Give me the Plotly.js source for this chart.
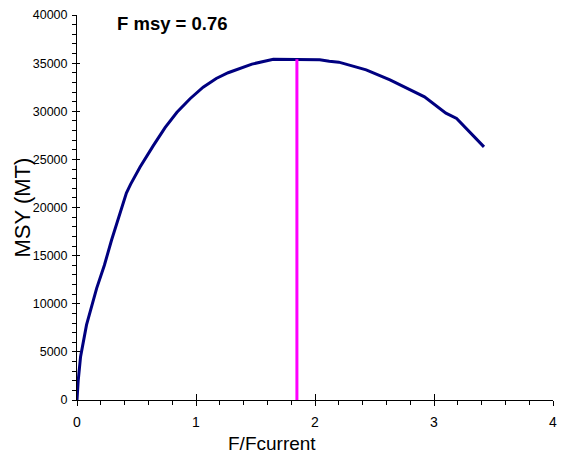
<!DOCTYPE html>
<html>
<head>
<meta charset="utf-8">
<script src="https://cdn.plot.ly/plotly-3.0.1.min.js"></script>
<style>html,body{margin:0;padding:0;background:#fff;}#chart{width:563px;height:456px;}</style>
</head>
<body>
<div id="chart"></div>
<script>
// F/Fcurrent multipliers and corresponding MSY (MT)
const fRatio = [0, 0.01, 0.03, 0.08, 0.165, 0.23, 0.29, 0.35, 0.39, 0.415, 0.45, 0.53, 0.64, 0.74, 0.84, 0.95, 1.06, 1.17, 1.27, 1.47, 1.65, 1.85, 1.95, 2.04, 2.12, 2.2, 2.43, 2.63, 2.92, 3.1, 3.19, 3.42];
const msy    = [0, 2000, 4500, 7800, 11600, 14000, 16600, 18900, 20400, 21500, 22400, 24200, 26400, 28300, 29900, 31300, 32500, 33400, 34000, 34900, 35400, 35400, 35400, 35350, 35200, 35100, 34300, 33250, 31500, 29800, 29250, 26300];
// Fmsy reference line
const fmsyLineX = [1.848, 1.848];
const fmsyLineY = [0, 35400];
const titleText = "F msy = 0.76";
const xTitle = "F/Fcurrent";
const yTitle = "MSY (MT)";

const FONT = "Arial, 'Liberation Sans', sans-serif";

const traces = [
  {x: fRatio, y: msy, mode: 'lines', line: {color: '#000080', width: 3}, hoverinfo: 'skip'},
  {x: fmsyLineX, y: fmsyLineY, mode: 'lines', line: {color: '#FF00FF', width: 3}, hoverinfo: 'skip'},
  {x: [], y: [], xaxis: 'x2', yaxis: 'y2', mode: 'lines'}
];

const axBase = {
  showgrid: false, zeroline: false, showline: true, linecolor: '#000', linewidth: 1,
  tickcolor: '#000', tickwidth: 1, tickfont: {family: FONT, color: '#000'}
};

const layout = {
  width: 563, height: 456,
  margin: {l: 77, r: 10, t: 15, b: 56},
  paper_bgcolor: '#fff', plot_bgcolor: '#fff',
  showlegend: false,
  xaxis: Object.assign({}, axBase, {
    range: [0, 4], dtick: 1, ticks: 'outside', ticklen: 5,
    tickfont: {family: FONT, size: 14, color: '#000'}, ticklabelstandoff: 4,
    minor: {dtick: 0.2, ticks: 'outside', ticklen: 4, tickcolor: '#000', showgrid: false}
  }),
  yaxis: Object.assign({}, axBase, {
    range: [0, 40000], dtick: 5000, ticks: 'outside', ticklen: 4, tickformat: 'd',
    tickfont: {family: FONT, size: 12.5, color: '#000'}, ticklabelstandoff: 2,
    minor: {dtick: 1000, ticks: 'outside', ticklen: 4, tickcolor: '#000', showgrid: false}
  }),
  xaxis2: {overlaying: 'x', anchor: 'y', side: 'bottom', range: [0, 4], dtick: 1, ticks: 'inside', ticklen: 6,
           tickcolor: '#000', showticklabels: false, showgrid: false, zeroline: false, showline: false},
  yaxis2: {overlaying: 'y', anchor: 'x', side: 'left', range: [0, 40000], dtick: 5000, ticks: 'inside', ticklen: 3,
           tickcolor: '#000', showticklabels: false, showgrid: false, zeroline: false, showline: false},
  annotations: [
    {text: '<b>' + titleText + '</b>', xref: 'paper', yref: 'paper', x: 0.1996, y: 0.978,
     xanchor: 'center', yanchor: 'middle', showarrow: false, font: {family: FONT, size: 18.5, color: '#000'}},
    {text: xTitle, xref: 'paper', yref: 'paper', x: 0.409, y: -0.1117,
     xanchor: 'center', yanchor: 'middle', showarrow: false, font: {family: FONT, size: 19, color: '#000'}},
    {text: yTitle, xref: 'paper', yref: 'paper', x: -0.1135, y: 0.5,
     xanchor: 'center', yanchor: 'middle', textangle: -90, showarrow: false, font: {family: FONT, size: 22, color: '#000'}}
  ]
};

Plotly.newPlot('chart', traces, layout, {displayModeBar: false, staticPlot: true});
</script>
</body>
</html>
